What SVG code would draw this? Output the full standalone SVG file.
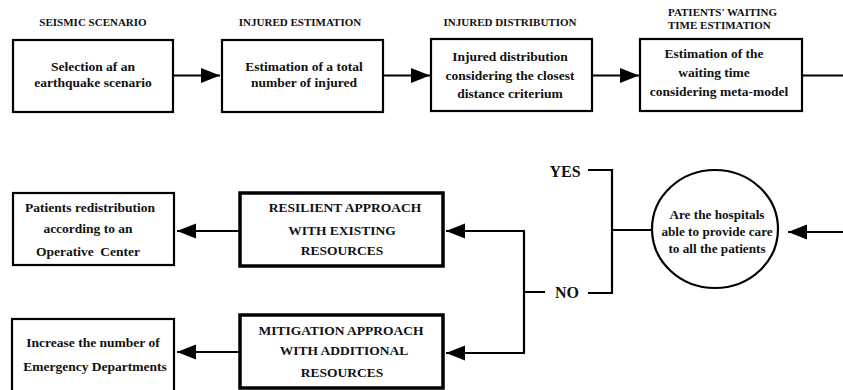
<svg xmlns="http://www.w3.org/2000/svg" width="843" height="390" viewBox="0 0 843 390" font-family="'Liberation Serif', 'DejaVu Serif', serif">
<style>
text{font-family:'Liberation Serif','DejaVu Serif',serif;font-weight:bold;fill:#111;text-anchor:middle}
.h{font-size:11px}
.t{font-size:13.5px}
.ct{font-size:13.2px}
.b{fill:#fff;stroke:#000;stroke-width:2.2}
.bb{fill:#fff;stroke:#000;stroke-width:3.5}
.c{fill:none;stroke:#000;stroke-width:2.2}
.big{font-size:16px}
</style>
<defs>
<marker id="ah" markerUnits="userSpaceOnUse" markerWidth="19" markerHeight="16" viewBox="0 0 19 16" refX="19" refY="8" orient="auto">
<path d="M0,0.5 L19,8 L0,15.5 z" fill="#000"/>
</marker>
</defs>
<rect width="843" height="390" fill="#fff"/>

<g id="h1"><text class="h" x="93" y="26">SEISMIC SCENARIO</text></g>
<g id="h2"><text class="h" x="300" y="26">INJURED ESTIMATION</text></g>
<g id="h3"><text class="h" x="510" y="26">INJURED DISTRIBUTION</text></g>
<g id="h4"><text class="h" x="668" y="16" style="text-anchor:start">PATIENTS' WAITING</text><text class="h" x="668" y="29" style="text-anchor:start">TIME ESTIMATION</text></g>

<g id="n1"><rect class="b" x="13" y="40" width="160" height="72"/>
<text class="t" x="93" y="71">Selection af an</text><text class="t" x="93" y="87">earthquake scenario</text></g>
<g id="n2"><rect class="b" x="222" y="40" width="161" height="72"/>
<text class="t" x="304" y="71">Estimation of a total</text><text class="t" x="304" y="87">number of injured</text></g>
<g id="n3"><rect class="b" x="431" y="39" width="161" height="72"/>
<text class="t" x="510" y="61">Injured distribution</text><text class="t" x="510" y="80">considering the closest</text><text class="t" x="510" y="98">distance criterium</text></g>
<g id="n4"><rect class="b" x="640" y="39" width="162" height="72"/>
<text class="t" x="714" y="58">Estimation of the</text><text class="t" x="714" y="77">waiting time</text><text class="t" x="719" y="96">considering meta-model</text></g>

<g id="n5"><ellipse cx="715" cy="229" rx="63" ry="59" class="c"/>
<text class="ct" x="717" y="219">Are the hospitals</text><text class="ct" x="717" y="236">able to provide care</text><text class="ct" x="717" y="253">to all the patients</text></g>

<g id="n6"><rect class="bb" x="240" y="193" width="203" height="73"/>
<text class="t" x="345" y="212">RESILIENT APPROACH</text><text class="t" x="342" y="235">WITH EXISTING</text><text class="t" x="342" y="255">RESOURCES</text></g>
<g id="n7"><rect class="bb" x="240" y="315" width="203" height="73"/>
<text class="t" x="341" y="335">MITIGATION APPROACH</text><text class="t" x="344" y="355">WITH ADDITIONAL</text><text class="t" x="342" y="377">RESOURCES</text></g>
<g id="n8"><rect class="b" x="13" y="193" width="161" height="72"/>
<text class="t" x="90" y="212">Patients redistribution</text><text class="t" x="88" y="233">according to an</text><text class="t" x="88" y="256" xml:space="preserve">Operative  Center</text></g>
<g id="n9"><rect class="b" x="12" y="319" width="162" height="75"/>
<text class="t" x="93" y="347">Increase the number of</text><text class="t" x="95" y="371">Emergency Departments</text></g>

<g id="lbl"><text class="big" x="565" y="177">YES</text><text class="big" x="567" y="298">NO</text></g>

<g id="connectors">
<path class="c" d="M173,75.5 H220" marker-end="url(#ah)"/>
<path class="c" d="M383,75.5 H430" marker-end="url(#ah)"/>
<path class="c" d="M592,75.5 H639" marker-end="url(#ah)"/>
<path class="c" d="M802,75.5 H843"/>
<path class="c" d="M843,232 H788" marker-end="url(#ah)"/>
<path class="c" d="M652,230 H612 M588,170 H612 V293 H588"/>
<path class="c" d="M545,292 H524 M524,231 V353"/>
<path class="c" d="M525,231 H446" marker-end="url(#ah)"/>
<path class="c" d="M525,353 H446" marker-end="url(#ah)"/>
<path class="c" d="M239,231 H177" marker-end="url(#ah)"/>
<path class="c" d="M239,352 H177" marker-end="url(#ah)"/>
</g>
</svg>
